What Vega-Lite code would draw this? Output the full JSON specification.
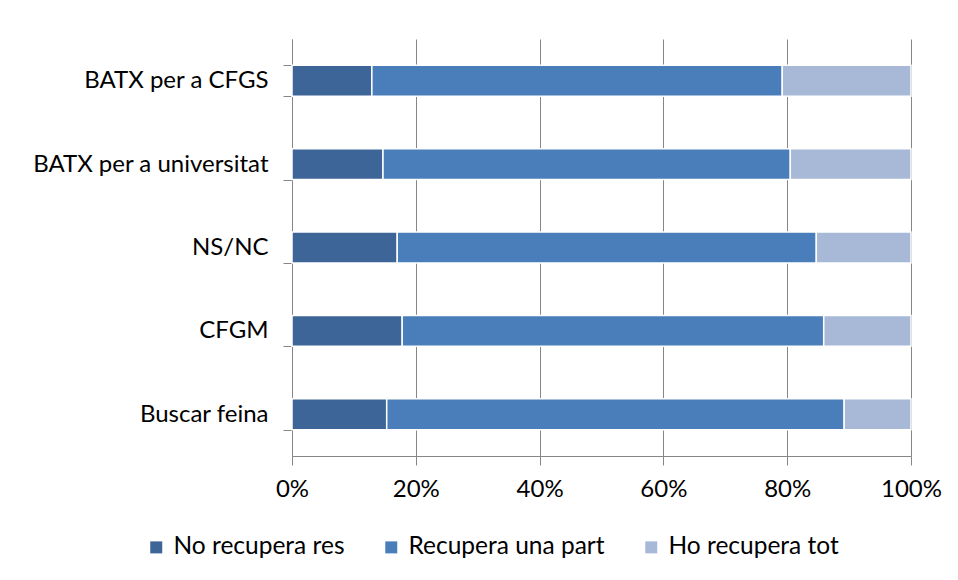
{
  "$schema": "https://vega.github.io/schema/vega-lite/v6.json",
  "width": 619,
  "height": 417,
  "autosize": {"type": "none"},
  "padding": {"left": 292, "top": 39, "right": 47, "bottom": 124},
  "background": "white",
  "config": {
    "font": "Lato",
    "view": {"stroke": null}
  },
  "data": {
    "values": [
      {"cat": "BATX per a CFGS", "serie": "No recupera res", "ord": 1, "v": 12.9},
      {"cat": "BATX per a CFGS", "serie": "Recupera una part", "ord": 2, "v": 66.3},
      {"cat": "BATX per a CFGS", "serie": "Ho recupera tot", "ord": 3, "v": 20.8},
      {"cat": "BATX per a universitat", "serie": "No recupera res", "ord": 1, "v": 14.7},
      {"cat": "BATX per a universitat", "serie": "Recupera una part", "ord": 2, "v": 65.8},
      {"cat": "BATX per a universitat", "serie": "Ho recupera tot", "ord": 3, "v": 19.5},
      {"cat": "NS/NC", "serie": "No recupera res", "ord": 1, "v": 17.0},
      {"cat": "NS/NC", "serie": "Recupera una part", "ord": 2, "v": 67.7},
      {"cat": "NS/NC", "serie": "Ho recupera tot", "ord": 3, "v": 15.3},
      {"cat": "CFGM", "serie": "No recupera res", "ord": 1, "v": 17.8},
      {"cat": "CFGM", "serie": "Recupera una part", "ord": 2, "v": 68.1},
      {"cat": "CFGM", "serie": "Ho recupera tot", "ord": 3, "v": 14.1},
      {"cat": "Buscar feina", "serie": "No recupera res", "ord": 1, "v": 15.3},
      {"cat": "Buscar feina", "serie": "Recupera una part", "ord": 2, "v": 73.9},
      {"cat": "Buscar feina", "serie": "Ho recupera tot", "ord": 3, "v": 10.8}
    ]
  },
  "mark": {"type": "bar", "stroke": "#ffffff", "strokeWidth": 1.5},
  "encoding": {
    "y": {
      "field": "cat",
      "type": "nominal",
      "sort": ["BATX per a CFGS", "BATX per a universitat", "NS/NC", "CFGM", "Buscar feina"],
      "scale": {"paddingInner": 0.63, "paddingOuter": 0.315},
      "axis": {
        "title": null,
        "tickBand": "extent",
        "tickSize": 9,
        "tickColor": "#868686",
        "domainColor": "#868686",
        "labelFontSize": 24,
        "labelColor": "#000000",
        "labelPadding": 15,
        "labelLimit": 400,
        "grid": false
      }
    },
    "x": {
      "field": "v",
      "type": "quantitative",
      "stack": "normalize",
      "scale": {"domain": [0, 1], "nice": false},
      "axis": {
        "title": null,
        "values": [0, 0.2, 0.4, 0.6, 0.8, 1],
        "format": ".0%",
        "grid": true,
        "gridColor": "#868686",
        "tickSize": 9,
        "tickColor": "#868686",
        "domainColor": "#868686",
        "labelFontSize": 24,
        "labelColor": "#000000",
        "labelPadding": 12,
        "labelFlush": false
      }
    },
    "color": {
      "field": "serie",
      "type": "nominal",
      "scale": {
        "domain": ["No recupera res", "Recupera una part", "Ho recupera tot"],
        "range": ["#3d6597", "#4a7ebb", "#a7b9d7"]
      },
      "legend": {
        "title": null,
        "orient": "none",
        "direction": "horizontal",
        "legendX": -148,
        "legendY": 496,
        "symbolType": "square",
        "symbolSize": 144,
        "symbolStrokeWidth": 0,
        "labelFontSize": 24.5,
        "labelColor": "#000000",
        "labelOffset": 5,
        "labelLimit": 400,
        "columnPadding": 34
      }
    },
    "order": {"field": "ord", "type": "quantitative"}
  }
}
